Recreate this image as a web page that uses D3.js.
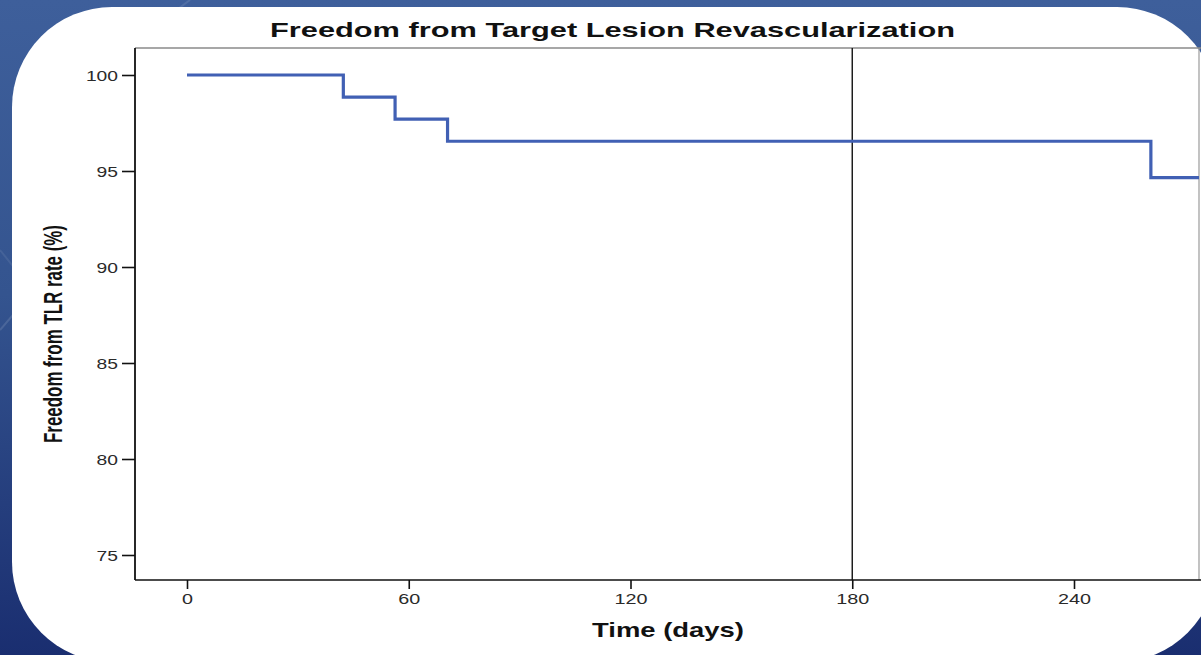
<!DOCTYPE html>
<html><head><meta charset="utf-8">
<script src="https://cdn.jsdelivr.net/npm/d3@7"></script>
<style>html,body{margin:0;padding:0;overflow:hidden;background:#2c4a8a}</style>
</head><body>
<svg id="c" width="1201" height="655"></svg>
<script>
// Data
const stepTimes = [0, 42.3, 56.3, 70.5, 260.8];
const stepValues = [100, 98.85, 97.70, 96.55, 94.65];
const endTime = 274;
const refLineTime = 180;
const xTicks = [0, 60, 120, 180, 240];
const yTicks = [75, 80, 85, 90, 95, 100];
const titleText = "Freedom from Target Lesion Revascularization";
const xLabelText = "Time (days)";
const yLabelText = "Freedom from TLR rate (%)";

const svg = d3.select("#c");
const W = 1201, H = 655;
const plot = {left: 135, right: 1199, top: 48, bottom: 580};

// background
const defs = svg.append("defs");
const g1 = defs.append("linearGradient").attr("id","bg").attr("x1",0).attr("y1",0).attr("x2",0).attr("y2",1);
g1.append("stop").attr("offset","0%").attr("stop-color","#3e5f9b");
g1.append("stop").attr("offset","45%").attr("stop-color","#34548f");
g1.append("stop").attr("offset","100%").attr("stop-color","#1a2e70");
svg.append("rect").attr("width",W).attr("height",H).attr("fill","url(#bg)");
// subtle streaks
svg.append("line").attr("x1",0).attr("y1",330).attr("x2",60).attr("y2",260).attr("stroke","#ffffff").attr("stroke-opacity",0.12).attr("stroke-width",2);
svg.append("line").attr("x1",150).attr("y1",30).attr("x2",190).attr("y2",0).attr("stroke","#ffffff").attr("stroke-opacity",0.1).attr("stroke-width",2);
svg.append("line").attr("x1",0).attr("y1",250).attr("x2",40).attr("y2",300).attr("stroke","#ffffff").attr("stroke-opacity",0.08).attr("stroke-width",2);

// white panel
svg.append("rect").attr("x",12).attr("y",7).attr("width",1205).attr("height",655)
  .attr("rx",100).attr("ry",100).attr("fill","#ffffff");

// scales
const x = d3.scaleLinear().domain([0,240]).range([187,1074]);
const y = d3.scaleLinear().domain([75,100]).range([555,75]);

const clip = defs.append("clipPath").attr("id","pc");
clip.append("rect").attr("x",plot.left).attr("y",plot.top).attr("width",plot.right-plot.left).attr("height",plot.bottom-plot.top);

// frame: top/right gray
svg.append("line").attr("x1",plot.left).attr("x2",W).attr("y1",plot.top).attr("y2",plot.top).attr("stroke","#8a8a8a").attr("stroke-width",1.5);
svg.append("line").attr("x1",plot.right).attr("x2",plot.right).attr("y1",plot.top).attr("y2",plot.bottom).attr("stroke","#9a9a9a").attr("stroke-width",1.2);

// reference vertical line at 180
svg.append("line").attr("x1",x(refLineTime)).attr("x2",x(refLineTime))
  .attr("y1",plot.top).attr("y2",plot.bottom).attr("stroke","#111").attr("stroke-width",1.4);

// step curve
const pts = stepTimes.map((t,i)=>[t,stepValues[i]]);
pts.push([endTime, stepValues[stepValues.length-1]]);
const line = d3.line().x(d=>x(d[0])).y(d=>y(d[1])).curve(d3.curveStepAfter);
svg.append("g").attr("clip-path","url(#pc)").append("path").datum(pts)
  .attr("d",line).attr("fill","none").attr("stroke","#4160b4").attr("stroke-width",3.2);

// axes
const yAxis = d3.axisLeft(y).tickValues(yTicks).tickSize(13).tickPadding(4).tickSizeOuter(0);
const ya = svg.append("g").attr("transform",`translate(${plot.left},0)`).call(yAxis);
ya.select(".domain").remove();
ya.selectAll(".tick line").attr("stroke","#111").attr("stroke-width",1.6);
ya.selectAll(".tick text").attr("font-family","'Liberation Sans', Arial, sans-serif").attr("font-size",14)
  .attr("fill","#2a2a2a").attr("dy","0.36em")
  .attr("textLength",d=>String(d).length*10.7).attr("lengthAdjust","spacingAndGlyphs");

const xAxis = d3.axisBottom(x).tickValues(xTicks).tickSize(9).tickPadding(5).tickSizeOuter(0);
const xa = svg.append("g").attr("transform",`translate(0,${plot.bottom})`).call(xAxis);
xa.select(".domain").remove();
xa.selectAll(".tick line").attr("stroke","#111").attr("stroke-width",1.6);
xa.selectAll(".tick text").attr("font-family","'Liberation Sans', Arial, sans-serif").attr("font-size",14)
  .attr("fill","#2a2a2a")
  .attr("textLength",d=>String(d).length*11).attr("lengthAdjust","spacingAndGlyphs");

// axis lines (black)
svg.append("line").attr("x1",plot.left).attr("x2",plot.left).attr("y1",plot.top).attr("y2",plot.bottom).attr("stroke","#111").attr("stroke-width",1.8);
svg.append("line").attr("x1",plot.left).attr("x2",W).attr("y1",plot.bottom).attr("y2",plot.bottom).attr("stroke","#111").attr("stroke-width",1.6);

// title
svg.append("text").attr("x",612.5).attr("y",36.5).attr("text-anchor","middle")
  .attr("font-family","'Liberation Sans', Arial, sans-serif").attr("font-weight","bold").attr("font-size",21)
  .attr("fill","#111").attr("textLength",685).attr("lengthAdjust","spacingAndGlyphs").text(titleText);

// x label
svg.append("text").attr("x",668).attr("y",636.5).attr("text-anchor","middle")
  .attr("font-family","'Liberation Sans', Arial, sans-serif").attr("font-weight","bold").attr("font-size",20.5)
  .attr("fill","#111").attr("textLength",152).attr("lengthAdjust","spacingAndGlyphs").text(xLabelText);

// y label
svg.append("text").attr("transform","translate(62,334) rotate(-90)").attr("text-anchor","middle")
  .attr("font-family","'Liberation Sans Narrow', 'Liberation Sans', Arial, sans-serif").attr("font-weight","bold").attr("font-size",26)
  .attr("fill","#111").attr("textLength",218).attr("lengthAdjust","spacingAndGlyphs").text(yLabelText);
</script>
</body></html>
